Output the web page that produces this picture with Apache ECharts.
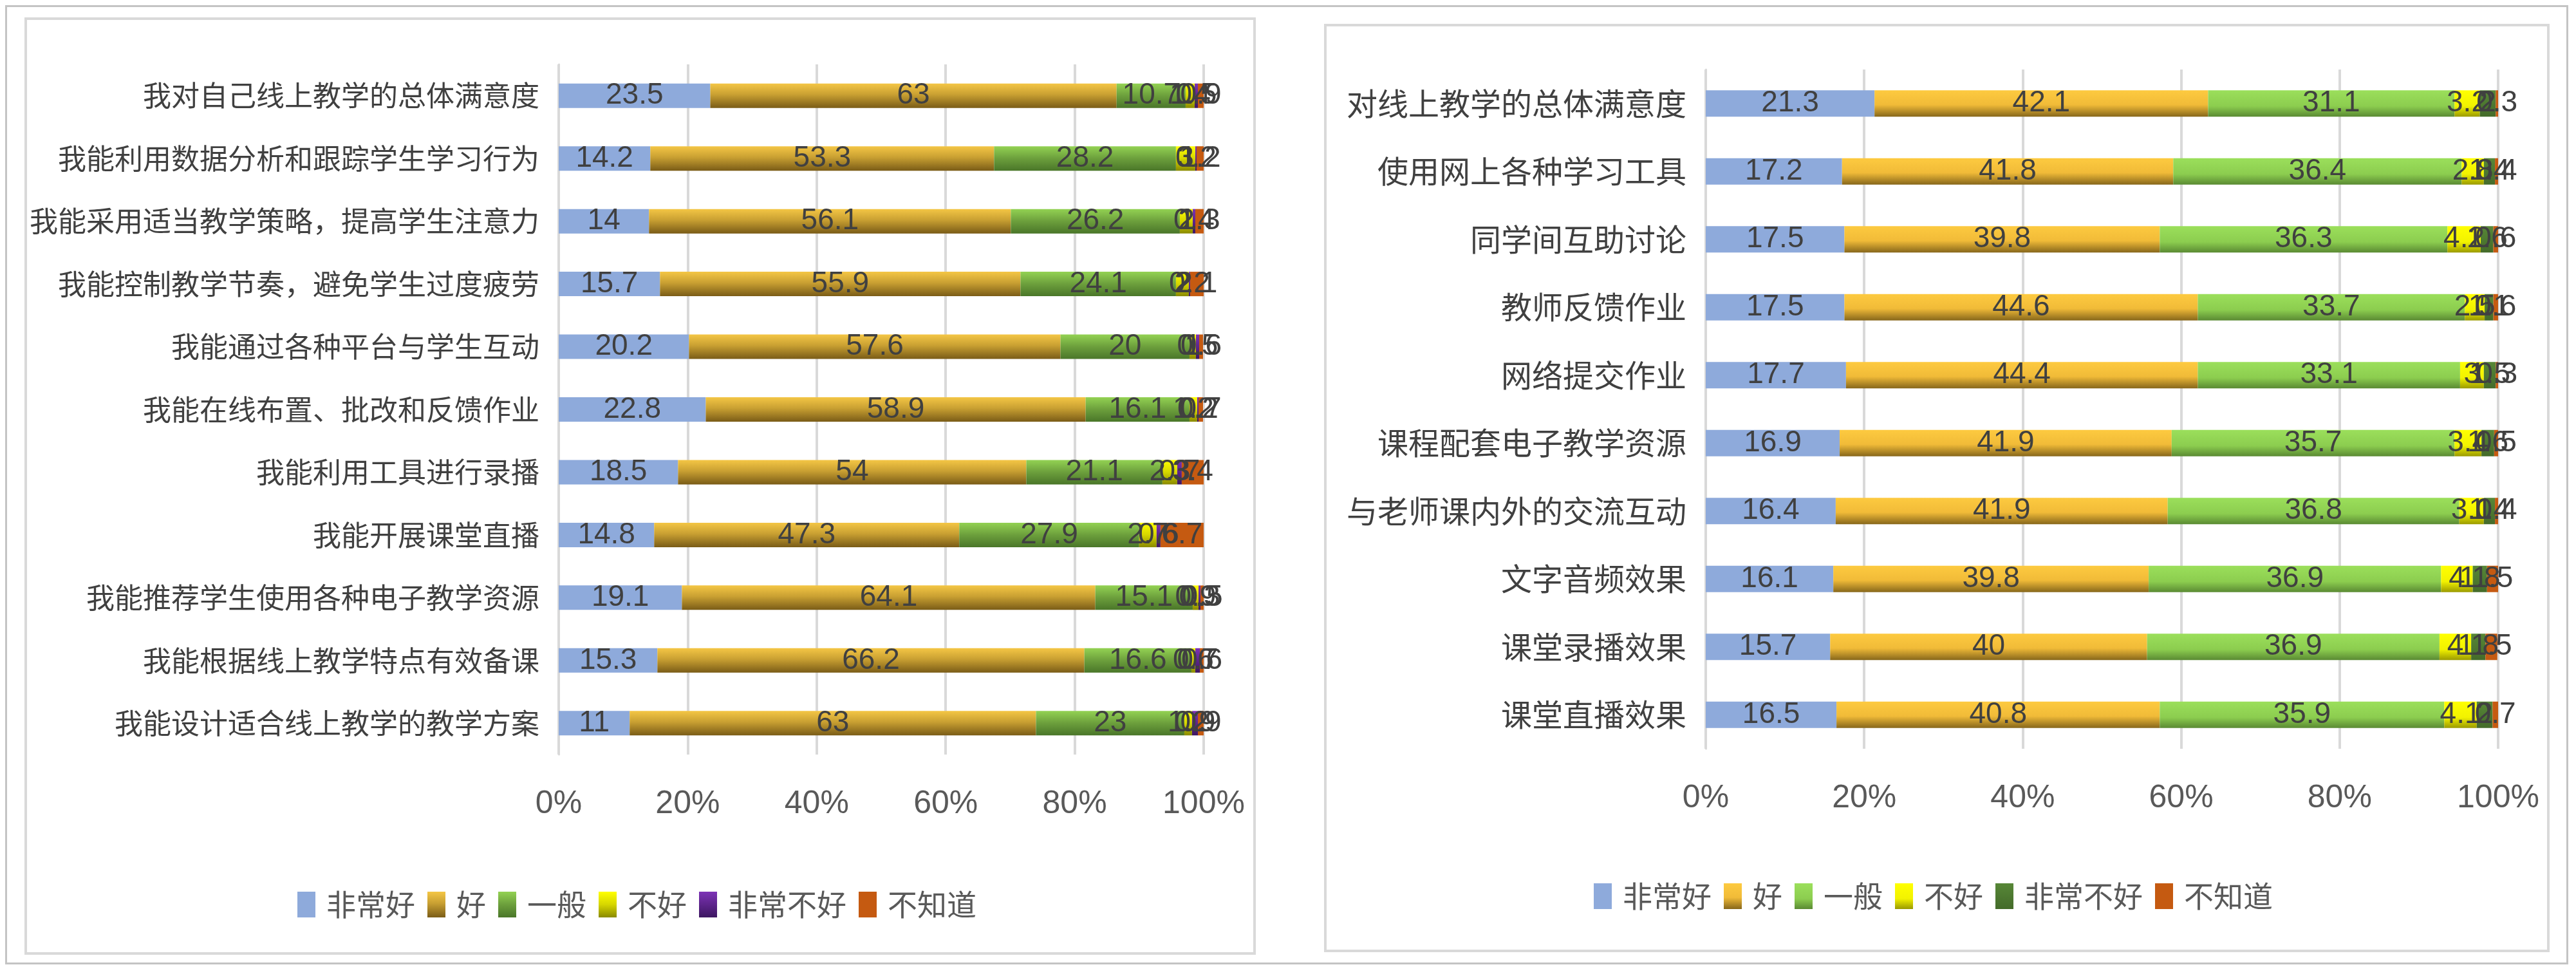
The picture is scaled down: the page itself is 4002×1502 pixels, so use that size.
<!DOCTYPE html>
<html>
<head>
<meta charset="utf-8">
<script src="https://cdn.jsdelivr.net/npm/echarts@6/dist/echarts.min.js"></script>
<style>
  html, body { margin: 0; padding: 0; background: #fff; }
  body { width: 4002px; height: 1502px; position: relative; overflow: hidden; }
  #frame { position: absolute; left: 8px; top: 8px; width: 3976px; height: 1484px; border: 3px solid #c4c4c4; }
  .panel { position: absolute; border: 4px solid #d9d9d9; background: #fff; }
  #left { left: 38px; top: 27px; width: 1905px; height: 1448px; }
  #right { left: 2057px; top: 37px; width: 1896px; height: 1434px; }
</style>
</head>
<body>
<div id="frame"></div>
<div id="left" class="panel"></div>
<div id="right" class="panel"></div>
<script>
// 左图：教师线上教学能力自评（%）
var leftCats = ['我对自己线上教学的总体满意度','我能利用数据分析和跟踪学生学习行为','我能采用适当教学策略，提高学生注意力','我能控制教学节奏，避免学生过度疲劳','我能通过各种平台与学生互动','我能在线布置、批改和反馈作业','我能利用工具进行录播','我能开展课堂直播','我能推荐学生使用各种电子教学资源','我能根据线上教学特点有效备课','我能设计适合线上教学的教学方案'];
var leftVeryGood = [23.5,14.2,14,15.7,20.2,22.8,18.5,14.8,19.1,15.3,11];
var leftGood     = [63,53.3,56.1,55.9,57.6,58.9,54,47.3,64.1,66.2,63];
var leftFair     = [10.7,28.2,26.2,24.1,20,16.1,21.1,27.9,15.1,16.6,23];
var leftPoor     = [1.4,3,2,2,1,1.2,2.3,2.7,0.9,0.6,1.2];
var leftVeryPoor = [0.5,0.2,0.4,0.2,0.5,0.2,0.7,0.6,0.3,0.7,0.9];
var leftUnknown  = [0.9,1.2,1.3,2.1,0.6,0.7,3.4,6.7,0.5,0.6,0.9];

// 右图：学生线上学习满意度（%）
var rightCats = ['对线上教学的总体满意度','使用网上各种学习工具','同学间互助讨论','教师反馈作业','网络提交作业','课程配套电子教学资源','与老师课内外的交流互动','文字音频效果','课堂录播效果','课堂直播效果'];
var rightVeryGood = [21.3,17.2,17.5,17.5,17.7,16.9,16.4,16.1,15.7,16.5];
var rightGood     = [42.1,41.8,39.8,44.6,44.4,41.9,41.9,39.8,40,40.8];
var rightFair     = [31.1,36.4,36.3,33.7,33.1,35.7,36.8,36.9,36.9,35.9];
var rightPoor     = [3.2,2.8,4.2,2.5,3,3.4,3.1,4,4,4.1];
var rightVeryPoor = [2,1.4,1.6,1.1,1.5,1.6,1.4,1.8,1.8,2];
var rightUnknown  = [0.3,0.4,0.6,0.6,0.3,0.5,0.4,1.5,1.5,0.7];

var levels = ['非常好','好','一般','不好','非常不好','不知道'];
var cjk = '"Noto Sans CJK SC", sans-serif';
var latin = '"Liberation Sans", sans-serif';

function grad(stops){
    return new echarts.graphic.LinearGradient(0,0,0,1, stops.map(function(s){ return {offset:s[0], color:s[1]}; }));
}

var leftColors = [
    '#8eaadb',
    grad([[0,'#f4c645'],[0.45,'#c9a032'],[1,'#7a5c17']]),
    grad([[0,'#93d253'],[0.5,'#6c9f3c'],[1,'#4a7629']]),
    grad([[0,'#ffff00'],[0.5,'#d6d600'],[1,'#8a8a00']]),
    grad([[0,'#7d32b6'],[1,'#3d1761']]),
    '#c55a11'
];
var rightColors = [
    '#8eaadb',
    grad([[0,'#fdca40'],[0.55,'#f1bb38'],[1,'#87671b']]),
    grad([[0,'#9bdf5b'],[0.6,'#8ccd4f'],[1,'#5a8a33']]),
    grad([[0,'#ffff00'],[0.6,'#f2f200'],[1,'#9a9a00']]),
    grad([[0,'#578737'],[1,'#446b2a']]),
    '#c55a11'
];

function buildOption(cats, values, colors, g, lg, catSize, barW){
    return {
        animation: false,
        color: colors,
        grid: g,
        legend: {
            data: levels, left: lg.left, top: lg.top,
            itemWidth: 28, itemHeight: 40, itemGap: 19,
            icon: 'rect',
            textStyle: {fontFamily: cjk, fontSize: 46, color: '#595959', padding: [0,0,0,12]}
        },
        xAxis: {
            type: 'value', min: 0, max: 100, interval: 20,
            axisLine: {show: false}, axisTick: {show: false},
            splitLine: {lineStyle: {color: '#d9d9d9', width: 4}},
            axisLabel: {formatter: '{value}%', fontFamily: latin, fontSize: 50, color: '#595959', margin: 52}
        },
        yAxis: {
            type: 'category', data: cats, inverse: true,
            axisLine: {lineStyle: {color: '#d9d9d9', width: 3}},
            axisTick: {show: false},
            axisLabel: {fontFamily: cjk, fontSize: catSize, color: '#404040', margin: 30}
        },
        series: values.map(function(v, i){
            return {
                name: levels[i], type: 'bar', stack: 'all', data: v,
                barWidth: barW,
                itemStyle: {color: colors[i]},
                label: {show: true, position: 'inside', fontFamily: latin, fontSize: 46, color: '#404040'}
            };
        })
    };
}

var leftChart = echarts.init(document.getElementById('left'));
leftChart.setOption(buildOption(leftCats,
    [leftVeryGood, leftGood, leftFair, leftPoor, leftVeryPoor, leftUnknown],
    leftColors,
    {left: 826, top: 69, width: 1002, height: 1072},
    {left: 415, top: 1346}, 44, 38));

var rightChart = echarts.init(document.getElementById('right'));
rightChart.setOption(buildOption(rightCats,
    [rightVeryGood, rightGood, rightFair, rightPoor, rightVeryPoor, rightUnknown],
    rightColors,
    {left: 589, top: 67, width: 1231, height: 1055},
    {left: 410, top: 1323}, 48, 41));
</script>
</body>
</html>
